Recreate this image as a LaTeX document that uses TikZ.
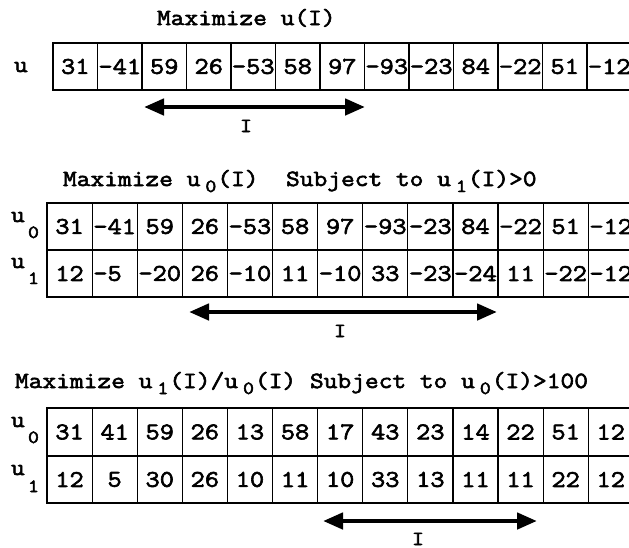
\documentclass[tikz,border=0pt]{standalone}
\usepackage{fontspec}
\newfontfamily\heavytt{Latin Modern Mono}[FakeBold=2.6, FakeStretch=1.15]
\usetikzlibrary{arrows.meta}

% lowered index digit after a variable name, e.g. u 0
\newcommand{\lowsub}[1]{\kern 5pt\raisebox{-6pt}{\fontsize{18.5}{19}\selectfont #1}\kern 1pt}

\begin{document}
\begin{tikzpicture}[x=1pt,y=-1pt,
  txt/.style={font=\heavytt\fontsize{23.2}{26}\selectfont, inner sep=0pt, outer sep=0pt},
  subtxt/.style={font=\heavytt\fontsize{18.5}{20}\selectfont, inner sep=0pt, outer sep=0pt},
  spanlabel/.style={font=\heavytt\fontsize{20}{22}\selectfont, inner sep=0pt, outer sep=0pt, anchor=base},
  cell/.style={draw, line width=1.2pt, minimum height=47pt, inner sep=0pt, outer sep=0pt,
    anchor=north west, font=\heavytt\fontsize{24}{26}\selectfont},
  span/.style={line width=4.5pt, {Triangle[length=20pt,width=16pt]}-{Triangle[length=20pt,width=16pt]}}
]
\path[use as bounding box] (0,0) rectangle (629,547);
\clip (0,0) rectangle (629,547);

% ---------- problem 1 ----------
\node[txt, anchor=base west] (title1) at (157,25) {Maximize u(I)};
\node[txt, anchor=base west] (lab1) at (14,72) {u};
\foreach \v [count=\i from 0] in {31,-41,59,26,-53,58,97,-93,-23,84,-22,51,-12}
  \node[cell, minimum width=44.5pt] (a\i) at ({53+44.5*\i},43) {\v};
\coordinate (a-l) at (144,107);
\coordinate (a-r) at (365,107);
\draw[span] (a-l) -- (a-r);
\node[spanlabel] (i1) at (246,132) {I};

% ---------- problem 2 ----------
\node[txt, anchor=base west] (title2) at (63,186)
  {Maximize u\lowsub{0}(I)\ \ Subject to u\lowsub{1}(I)>0};
\node[txt, anchor=base west] (lab2u) at (11,222) {u};
\node[subtxt, anchor=base west] (lab2s) at (28,238) {0};
\node[txt, anchor=base west] (lab3u) at (11,268) {u};
\node[subtxt, anchor=base west] (lab3s) at (28,284) {1};
\foreach \v [count=\i from 0] in {31,-41,59,26,-53,58,97,-93,-23,84,-22,51,-12}
  \node[cell, minimum width=45.1pt] (b\i) at ({47+45.1*\i},203) {\v};
\foreach \v [count=\i from 0] in {12,{-5\phantom{0}},-20,26,-10,11,-10,33,-23,-24,11,-22,-12}
  \node[cell, minimum width=45.1pt] (c\i) at ({47+45.1*\i},250) {\v};
\coordinate (b-l) at (189,312);
\coordinate (b-r) at (497,312);
\draw[span] (b-l) -- (b-r);
\node[spanlabel] (i2) at (340,337) {I};

% ---------- problem 3 ----------
\node[txt, anchor=base west] (title3) at (15,388)
  {Maximize u\lowsub{1}(I)/u\lowsub{0}(I) Subject to u\lowsub{0}(I)>100};
\node[txt, anchor=base west] (lab4u) at (11,427) {u};
\node[subtxt, anchor=base west] (lab4s) at (28,443) {0};
\node[txt, anchor=base west] (lab5u) at (11,475) {u};
\node[subtxt, anchor=base west] (lab5s) at (28,492) {1};
\foreach \v [count=\i from 0] in {31,41,59,26,13,58,17,43,23,14,22,51,12}
  \node[cell, minimum width=45.1pt, minimum height=48pt] (d\i) at ({47+45.1*\i},408) {\v};
\foreach \v [count=\i from 0] in {12,5,30,26,10,11,10,33,13,11,11,22,12}
  \node[cell, minimum width=45.1pt] (e\i) at ({47+45.1*\i},456) {\v};
\coordinate (c-l) at (323,521);
\coordinate (c-r) at (537,521);
\draw[span] (c-l) -- (c-r);
\node[spanlabel] (i3) at (418,545) {I};
\end{tikzpicture}
\end{document}
